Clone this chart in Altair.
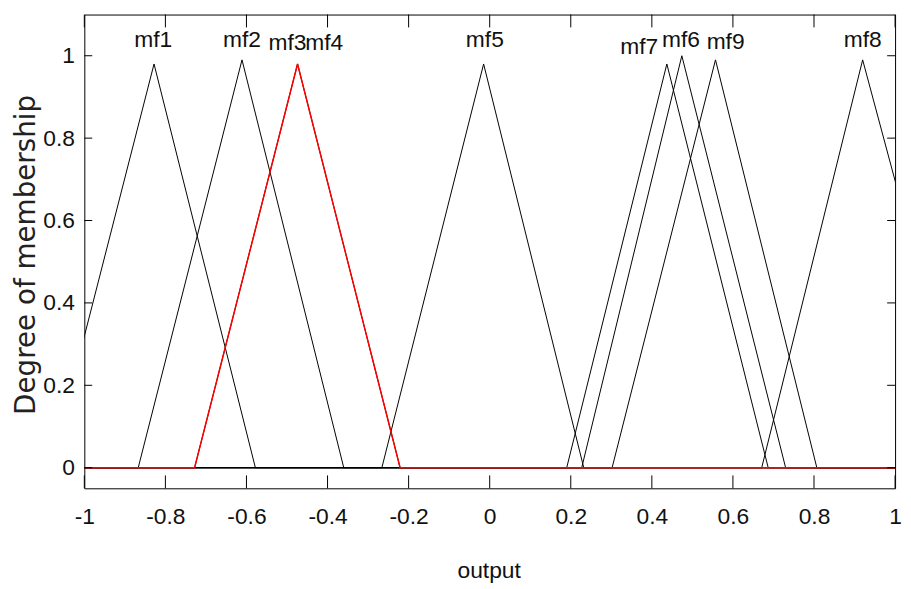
import altair as alt
import pandas as pd

# ---- data ----
mf_names = ["mf1", "mf2", "mf3", "mf4", "mf5", "mf6", "mf7", "mf8", "mf9"]
mf_left = [-1.083, -0.867, -0.728, -0.728, -0.266, 0.227, 0.190, 0.671, 0.302]
mf_peak = [-0.828, -0.611, -0.474, -0.474, -0.015, 0.474, 0.437, 0.920, 0.557]
mf_right = [-0.578, -0.360, -0.221, -0.221, 0.232, 0.730, 0.687, 1.190, 0.807]
mf_height = [0.98, 0.99, 0.98, 0.98, 0.98, 1.00, 0.98, 0.99, 0.99]
selected_mf = "mf3"

label_x = [-0.830, -0.611, -0.499, -0.408, -0.012, 0.472, 0.369, 0.920, 0.582]
label_y = [1.022, 1.022, 1.014, 1.014, 1.022, 1.022, 1.004, 1.022, 1.017]

x_range = [-1.0, 1.0]
y_range = [-0.05, 1.1]
x_ticks = [-1, -0.8, -0.6, -0.4, -0.2, 0, 0.2, 0.4, 0.6, 0.8, 1]
y_ticks = [0, 0.2, 0.4, 0.6, 0.8, 1]

# ---- build tables ----
rows = []
for n, l, p, r, h in zip(mf_names, mf_left, mf_peak, mf_right, mf_height):
    pts = []
    if l > x_range[0]:
        pts.append((x_range[0], 0.0))
    pts += [(l, 0.0), (p, h), (r, 0.0)]
    if r < x_range[1]:
        pts.append((x_range[1], 0.0))
    for i, (xv, yv) in enumerate(pts):
        rows.append({"name": n, "idx": i, "x": xv, "y": yv})
mf_df = pd.DataFrame(rows)
lab_df = pd.DataFrame({"name": mf_names, "x": label_x, "y": label_y})
xt_df = pd.DataFrame({"v": x_ticks})
yt_df = pd.DataFrame({"v": y_ticks})

W, H = 818, 478
FONT = "Liberation Sans"

xscale = alt.Scale(domain=x_range, nice=False, zero=False)
yscale = alt.Scale(domain=y_range, nice=False, zero=False)

fix_minus = "replace(format(datum.value, '~g'), '\u2212', '-')"

x_enc = alt.X("x:Q", scale=xscale, axis=alt.Axis(
    values=x_ticks, ticks=False, domain=False, grid=False,
    labelFont=FONT, labelFontSize=23, labelColor="#111", labelPadding=18,
    labelExpr=fix_minus, labelFlush=False, labelOverlap=False,
    title="output", titleFont=FONT, titleFontSize=23, titleFontWeight="normal",
    titleColor="#111", titleX=408, titleY=83, titleBaseline="middle", titleAlign="center"))
y_enc = alt.Y("y:Q", scale=yscale, axis=alt.Axis(
    values=y_ticks, ticks=False, domain=False, grid=False,
    labelFont=FONT, labelFontSize=23, labelColor="#111", labelPadding=10,
    labelExpr=fix_minus, labelFlush=False, labelOverlap=False,
    title="Degree of membership", titleFont="DejaVu Sans", titleFontSize=28,
    titleFontWeight="normal", titleColor="#222", titleAngle=270,
    titleX=-58, titleY=242, titleBaseline="middle", titleAlign="center"))

base = alt.Chart(mf_df)
black_lines = base.transform_filter(alt.datum.name != selected_mf).mark_line(
    clip=True, color="black", strokeWidth=1).encode(
    x=x_enc, y=y_enc, detail="name:N", order="idx:Q")
red_line = base.transform_filter(alt.datum.name == selected_mf).mark_line(
    clip=True, color="#ff0000", strokeWidth=1.5).encode(
    x="x:Q", y="y:Q", detail="name:N", order="idx:Q")

labels = alt.Chart(lab_df).mark_text(
    font=FONT, fontSize=23, color="#111", baseline="alphabetic", align="center"
).encode(x="x:Q", y="y:Q", text="name:N")

tick_bottom = alt.Chart(xt_df).mark_rule(color="black", strokeWidth=1).encode(
    x="v:Q", y=alt.value(H), y2=alt.value(H - 13))
tick_top = alt.Chart(xt_df).mark_rule(color="black", strokeWidth=1).encode(
    x="v:Q", y=alt.value(0), y2=alt.value(13))
tick_left = alt.Chart(yt_df).mark_rule(color="black", strokeWidth=1).encode(
    y="v:Q", x=alt.value(0), x2=alt.value(8))
tick_right = alt.Chart(yt_df).mark_rule(color="black", strokeWidth=1).encode(
    y="v:Q", x=alt.value(W - 8), x2=alt.value(W))

chart = alt.layer(
    black_lines, red_line, labels, tick_bottom, tick_top, tick_left, tick_right
).properties(
    width=W, height=H,
    autosize=alt.AutoSizeParams(type="none"),
    padding={"left": 77, "top": 4, "right": 8, "bottom": 99},
    background="white",
).configure_view(stroke="black", strokeWidth=1)

chart.save("out.html", embed_options={"renderer": "svg", "actions": False})
